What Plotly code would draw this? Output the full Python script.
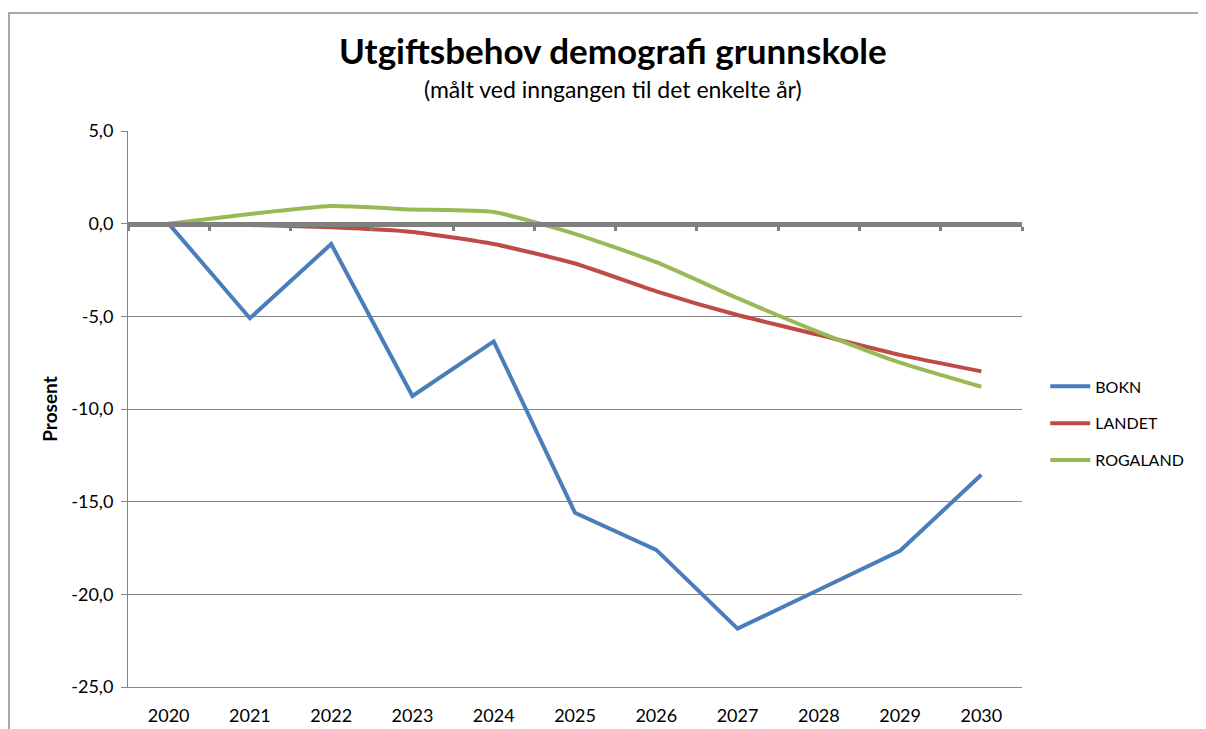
import plotly.graph_objects as go

years = ["2020", "2021", "2022", "2023", "2024", "2025", "2026", "2027", "2028", "2029", "2030"]
bokn = [0.0, -5.1, -1.1, -9.3, -6.35, -15.6, -17.6, -21.85, -19.75, -17.65, -13.55]
landet = [0.0, -0.07, -0.2, -0.45, -1.1, -2.15, -3.65, -4.93, -6.0, -7.08, -7.97]
rogaland = [0.0, 0.52, 0.95, 0.77, 0.63, -0.55, -2.08, -4.02, -5.85, -7.5, -8.8]

y_tickvals = [5, 0, -5, -10, -15, -20, -25]
y_ticktext = ["5,0", "0,0", "-5,0", "-10,0", "-15,0", "-20,0", "-25,0"]

series = [
    ("BOKN", bokn, "#4A7EBB", "linear"),
    ("LANDET", landet, "#BE4B48", "spline"),
    ("ROGALAND", rogaland, "#98B954", "spline"),
]

FONT = "Lato"

fig = go.Figure()
for name, vals, color, shape in series:
    fig.add_trace(go.Scatter(
        x=years, y=vals, name=name, mode="lines",
        line=dict(color=color, width=4, shape=shape, smoothing=0.5),
        legendgroup=name,
    ))

# invisible trace to carry the zero-crossing category axis
fig.add_trace(go.Scatter(x=years, y=[None] * len(years), xaxis="x2",
                         showlegend=False, hoverinfo="skip"))

fig.update_layout(
    width=1206, height=729,
    margin=dict(l=120, r=192, t=123, b=50),
    paper_bgcolor="white", plot_bgcolor="white",
    font=dict(family=FONT, color="#000000", size=16),
    showlegend=True,
    legend=dict(
        x=1.026, y=0.474, xanchor="left", yanchor="middle",
        font=dict(family=FONT, size=16, color="#000000"),
        tracegroupgap=13, itemwidth=40,
        bgcolor="rgba(0,0,0,0)",
    ),
    xaxis=dict(
        type="category", range=[-0.5, 10.5],
        showgrid=False, zeroline=False,
        showline=True, linecolor="#868686", linewidth=1,
        ticks="", tickfont=dict(family=FONT, size=18, color="#000000"),
        ticklabelstandoff=12,
    ),
    xaxis2=dict(
        type="category", overlaying="x", matches="x",
        anchor="free", position=5 / 6,
        showgrid=False, zeroline=False,
        showline=True, linecolor="#808080", linewidth=5,
        ticks="outside", tickson="boundaries", ticklen=4, tickwidth=3,
        tickcolor="#808080", showticklabels=False,
    ),
    yaxis=dict(
        range=[-25, 5], tickmode="array", tickvals=y_tickvals, ticktext=y_ticktext,
        showgrid=True, gridcolor="#868686", gridwidth=1,
        zeroline=False,
        showline=True, linecolor="#868686", linewidth=1,
        ticks="outside", ticklen=6, tickcolor="#868686",
        tickfont=dict(family=FONT, size=18, color="#000000"),
        ticklabelstandoff=4,
        title=dict(text="<b>Prosent</b>", font=dict(family=FONT, size=19, color="#000000"),
                   standoff=8),
    ),
    shapes=[dict(type="rect", xref="paper", yref="paper",
                 x0=-0.1331, x1=1.3, y0=-0.3, y1=1.2122,
                 line=dict(color="#8c8c8c", width=1.5), layer="below")],
    annotations=[
        dict(text="<b>Utgiftsbehov demografi grunnskole</b>", xref="paper", yref="paper",
             x=0.543, y=1.145, xanchor="center", yanchor="middle", showarrow=False,
             font=dict(family=FONT, size=35, color="#000000")),
        dict(text="(målt ved inngangen til det enkelte år)", xref="paper", yref="paper",
             x=0.543, y=1.075, xanchor="center", yanchor="middle", showarrow=False,
             font=dict(family=FONT, size=23, color="#000000")),
    ],
)

fig.write_html("out.html")
